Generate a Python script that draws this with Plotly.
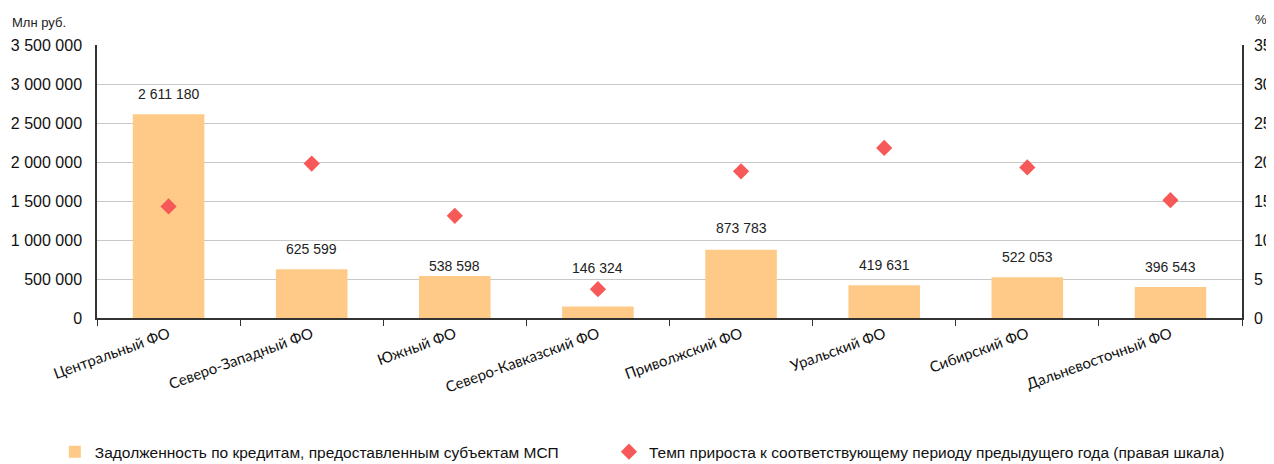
import plotly.graph_objects as go

categories = ["Центральный ФО", "Северо-Западный ФО", "Южный ФО", "Северо-Кавказский ФО",
              "Приволжский ФО", "Уральский ФО", "Сибирский ФО", "Дальневосточный ФО"]
debt = [2611180, 625599, 538598, 146324, 873783, 419631, 522053, 396543]
growth = [14.3, 19.8, 13.1, 3.7, 18.8, 21.8, 19.3, 15.1]
left_ticks = [0, 500000, 1000000, 1500000, 2000000, 2500000, 3000000, 3500000]
right_ticks = [0, 5, 10, 15, 20, 25, 30, 35]

bar_name = "Задолженность по кредитам, предоставленным субъектам МСП"
dot_name = "Темп прироста к соответствующему периоду предыдущего года (правая шкала)"

# vertical pixel offsets of the value labels above the bars (style only)
label_shift = [20, 20, 10, 39, 22, 20, 20, 20]

BAR = "#FFCA87"
RED = "#F75959"
FONT = "Liberation Sans"

fig = go.Figure()
fig.add_trace(go.Bar(x=categories, y=debt, name=bar_name, marker_color=BAR,
                     marker_line_width=0, yaxis="y", legend="legend"))
fig.add_trace(go.Scatter(x=categories, y=growth, name=dot_name, mode="markers",
                         marker=dict(symbol="diamond", size=12.5, color=RED), yaxis="y2",
                         legend="legend2"))

for c, v, s in zip(categories, debt, label_shift):
    fig.add_annotation(x=c, y=v, yref="y", text=f"{v:,}".replace(",", " "),
                       showarrow=False, yshift=s, font=dict(size=14, color="#222", family=FONT))

fig.add_annotation(xref="paper", yref="paper", x=-0.076, y=1.084, xanchor="left",
                   yanchor="middle", text="Млн руб.", showarrow=False,
                   font=dict(size=13, color="#222", family=FONT))
fig.add_annotation(xref="paper", yref="paper", x=1.0096, y=1.092, xanchor="left",
                   yanchor="middle", text="%", showarrow=False,
                   font=dict(size=13, color="#222", family=FONT))

legend_common = dict(orientation="h", xref="container", yref="container", y=0.026,
                     yanchor="middle", xanchor="left", itemwidth=30,
                     font=dict(size=15.5, family=FONT, color="#111"), itemclick=False,
                     bgcolor="rgba(0,0,0,0)")

fig.update_layout(
    width=1266, height=456,
    margin=dict(l=89, r=32, t=37, b=146, autoexpand=False),
    plot_bgcolor="white", paper_bgcolor="white",
    separators=", ",
    bargap=0.5,
    showlegend=True,
    font=dict(family=FONT, color="#222"),
    xaxis=dict(showline=True, linecolor="#333", linewidth=1.5, ticks="outside",
               tickson="boundaries", ticklen=6, tickcolor="#333", tickangle=-20,
               automargin=False,
               tickfont=dict(size=15, family="Lato", color="#111")),
    yaxis=dict(range=[0, 3500000], tickvals=left_ticks, tickformat=",d",
               showline=True, linecolor="#333", linewidth=1.5, gridcolor="#C8C8C8",
               gridwidth=1, ticks="", ticklabelstandoff=10, zeroline=False,
               automargin=False,
               tickfont=dict(size=16, family=FONT, color="#111")),
    yaxis2=dict(range=[0, 35], tickvals=right_ticks, overlaying="y", side="right",
                showline=True, linecolor="#333", linewidth=1.5, showgrid=False,
                ticks="", ticklabelstandoff=7, zeroline=False, automargin=False,
                tickfont=dict(size=16, family=FONT, color="#111")),
    legend=dict(x=0.037, **legend_common),
    legend2=dict(x=0.4747, **legend_common),
)

fig.write_html("out.html")
